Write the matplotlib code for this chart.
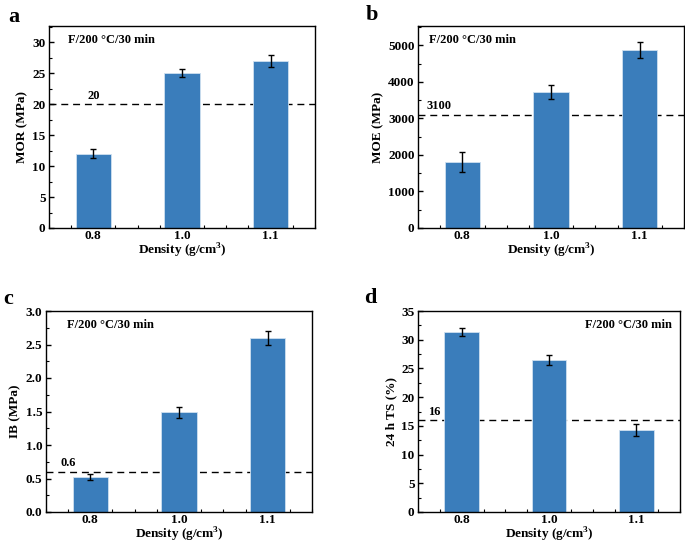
import matplotlib.pyplot as plt
from matplotlib.ticker import MultipleLocator

plt.rcParams['font.family'] = ['Liberation Serif', 'DejaVu Serif']
plt.rcParams['font.weight'] = 'bold'
plt.rcParams['mathtext.fontset'] = 'custom'
plt.rcParams['mathtext.rm'] = 'Liberation Serif:bold'
plt.rcParams['mathtext.bf'] = 'Liberation Serif:bold'

densities = ['0.8', '1.0', '1.1']

mor = [12.0, 25.0, 27.0]
mor_err = [0.7, 0.6, 1.0]
moe = [1800, 3730, 4870]
moe_err = [270, 190, 210]
ib = [0.52, 1.49, 2.60]
ib_err = [0.04, 0.08, 0.10]
ts = [31.3, 26.5, 14.3]
ts_err = [0.7, 0.9, 1.1]

bar_color = '#3a7dbb'
cond_text = 'F/200 \u00b0C/30 min'

fig = plt.figure(figsize=(6.85, 5.43), dpi=100)
W, H = 685, 543


def add_ax(left, top, right, bottom):
    return fig.add_axes([left / W, 1 - bottom / H, (right - left) / W, (bottom - top) / H])


def draw_panel(ax, vals, errs, ylab, ymax, ymajor, line_val, line_lab, lab_x, text_pos, text_ha,
               xlab_y=-0.113):
    x = [1, 2, 3]
    ax.bar(x, vals, width=0.4, color=bar_color, edgecolor='#cfe0f0', linewidth=0.6, zorder=2)
    ax.errorbar(x, vals, yerr=errs, fmt='none', ecolor='black', elinewidth=1.0,
                capsize=2.5, capthick=1.0, zorder=3)
    ax.axhline(line_val, color='black', linestyle=(0, (5, 3.5)), linewidth=1.0, zorder=1)
    ax.text(lab_x, line_val + ymax * 0.012, line_lab, fontsize=9, fontweight='bold',
            ha='left', va='bottom')
    ax.text(text_pos[0], text_pos[1], cond_text, transform=ax.transAxes, fontsize=9,
            fontweight='bold', ha=text_ha, va='center')
    ax.set_xlim(0.5, 3.5)
    ax.set_ylim(0, ymax)
    ax.set_xticks(x)
    ax.set_xticklabels(densities)
    ax.xaxis.set_minor_locator(MultipleLocator(0.25))
    ax.yaxis.set_major_locator(MultipleLocator(ymajor))
    ax.yaxis.set_minor_locator(MultipleLocator(ymajor / 2))
    ax.tick_params(axis='both', which='major', direction='in', length=3.5, width=1,
                   labelsize=9.5, pad=2.5)
    ax.tick_params(axis='x', which='major', pad=1.5)
    ax.tick_params(axis='both', which='minor', direction='in', length=2, width=0.8)
    for lbl in ax.get_xticklabels() + ax.get_yticklabels():
        lbl.set_fontweight('bold')
    for sp in ax.spines.values():
        sp.set_linewidth(1.0)
    ax.set_xlabel('Density (g/cm$^{3}$)', fontsize=9.5, fontweight='bold')
    ax.xaxis.set_label_coords(0.5, xlab_y)
    ax.xaxis.label.set_va('center')
    ax.set_ylabel(ylab, fontsize=9.5, fontweight='bold', labelpad=3)


ax_a = add_ax(49, 26, 315, 228)
draw_panel(ax_a, mor, mor_err, 'MOR (MPa)', 32.6, 5, 20, '20', 0.93, (0.07, 0.93), 'left')

ax_b = add_ax(418, 26, 684, 228)
draw_panel(ax_b, moe, moe_err, 'MOE (MPa)', 5530, 1000, 3100, '3100', 0.6, (0.04, 0.93), 'left')

ax_c = add_ax(46, 311, 312, 512)
draw_panel(ax_c, ib, ib_err, 'IB (MPa)', 3.0, 0.5, 0.6, '0.6', 0.66, (0.08, 0.93), 'left',
           xlab_y=-0.112)

ax_d = add_ax(418, 311, 680, 512)
draw_panel(ax_d, ts, ts_err, '24 h TS (%)', 35, 5, 16, '16', 0.61, (0.97, 0.93), 'right',
           xlab_y=-0.112)

fig.text(8 / W, 1 - 17 / H, 'a', fontsize=16, fontweight='bold', ha='left', va='center')
fig.text(366 / W, 1 - 15 / H, 'b', fontsize=16, fontweight='bold', ha='left', va='center')
fig.text(3 / W, 1 - 299 / H, 'c', fontsize=16, fontweight='bold', ha='left', va='center')
fig.text(364 / W, 1 - 298 / H, 'd', fontsize=16, fontweight='bold', ha='left', va='center')

fig.savefig('out.png', dpi=100)
